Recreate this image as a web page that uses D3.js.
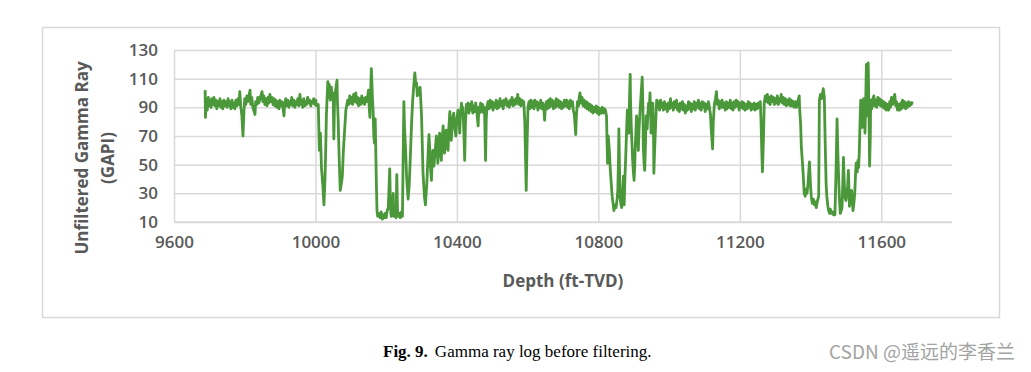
<!DOCTYPE html>
<html lang="en">
  <head>
    <meta charset="UTF-8" />
    <title>Gamma ray log before filtering</title>
    <script src="https://d3js.org/d3.v7.min.js"></script>
    <style>
      body {
        margin: 0;
        background: #fff;
      }
      .tick-label {
        font-family: "Open Sans", sans-serif;
        font-size: 17px;
        font-weight: 600;
        fill: #595959;
      }
      .axis-title {
        font-family: "Open Sans", sans-serif;
        font-size: 17px;
        font-weight: 700;
        fill: #595959;
      }
      .caption {
        font-family: "Liberation Serif", serif;
        font-size: 17px;
        fill: #000;
      }
      .watermark {
        font-family: "Noto Sans CJK SC", sans-serif;
        font-size: 19px;
        fill: #a3a3a3;
      }
    </style>
  </head>
  <body>
    <svg width="1031" height="372"></svg>

    <script>
      // axis setup
      const depthDomain = [9600, 11800];
      const gammaDomain = [10, 130];
      const depthTicks = [9600, 10000, 10400, 10800, 11200, 11600];
      const gammaTicks = [10, 30, 50, 70, 90, 110, 130];
      const xTitle = "Depth (ft-TVD)";
      const yTitle = ["Unfiltered Gamma Ray", "(GAPI)"];

      // [depth ft-TVD, gamma ray GAPI]
      const gammaRayLog = [
        [9688,102],[9689,83],[9691,96],[9694,88],[9697,97],[9699,91],[9702,95],[9705,90],[9707,96],[9710,92],
        [9713,97],[9716,91],[9719,95],[9721,89],[9724,94],[9727,91],[9730,96],[9733,90],[9736,94],[9738,89],
        [9741,95],[9744,91],[9747,94],[9750,90],[9753,96],[9755,91],[9758,94],[9761,89],[9764,95],[9767,90],
        [9770,93],[9772,89],[9775,95],[9778,91],[9781,96],[9784,92],[9786,101],[9789,90],[9792,84],[9795,70],
        [9798,88],[9800,96],[9803,92],[9806,98],[9809,94],[9815,102],[9817,92],[9820,97],[9823,90],[9829,85],
        [9831,94],[9834,92],[9837,97],[9840,93],[9843,96],[9849,101],[9851,94],[9854,98],[9857,92],[9860,96],
        [9863,91],[9866,97],[9868,93],[9871,99],[9874,94],[9877,97],[9880,92],[9883,96],[9885,91],[9888,95],
        [9891,90],[9894,94],[9897,89],[9899,95],[9902,91],[9905,94],[9908,90],[9911,84],[9913,93],[9916,96],
        [9919,91],[9922,95],[9925,90],[9928,94],[9930,92],[9933,97],[9936,91],[9939,95],[9942,90],[9944,94],
        [9947,92],[9950,96],[9953,91],[9956,99],[9959,92],[9961,95],[9964,90],[9967,96],[9970,91],[9973,94],
        [9975,92],[9978,97],[9981,93],[9984,95],[9987,91],[9989,94],[9992,93],[9995,96],[9998,92],[10001,95],
        [10003,91],[10008,92],[10011,60],[10014,72],[10017,48],[10021,35],[10024,22],[10027,40],[10029,60],[10031,85],
        [10035,108],[10037,97],[10039,106],[10042,95],[10045,104],[10047,98],[10050,100],[10052,68],[10054,95],[10057,102],
        [10061,109],[10062,95],[10064,83],[10067,55],[10070,32],[10074,38],[10076,42],[10079,60],[10082,72],[10086,88],
        [10091,95],[10094,92],[10097,98],[10100,93],[10103,97],[10105,92],[10108,99],[10111,94],[10114,100],[10117,93],
        [10119,97],[10122,91],[10125,96],[10128,92],[10131,98],[10134,93],[10136,96],[10139,92],[10142,97],[10145,94],
        [10148,98],[10150,102],[10152,90],[10154,83],[10156,100],[10158,117],[10160,105],[10161,97],[10163,88],[10165,70],
        [10167,65],[10169,82],[10172,40],[10174,18],[10176,14],[10181,16],[10183,13],[10186,17],[10189,12],[10192,15],
        [10195,13],[10197,16],[10200,13],[10203,18],[10206,20],[10210,47],[10212,22],[10214,14],[10217,16],[10220,30],
        [10221,14],[10225,15],[10228,13],[10230,43],[10232,18],[10235,14],[10238,16],[10240,13],[10243,17],[10246,14],
        [10248,55],[10250,94],[10252,75],[10255,60],[10258,40],[10262,26],[10265,35],[10269,60],[10272,80],[10275,95],
        [10278,105],[10281,114],[10284,105],[10286,107],[10288,98],[10291,103],[10293,99],[10296,104],[10300,84],[10302,65],
        [10304,45],[10306,37],[10308,28],[10311,22],[10313,30],[10315,37],[10318,55],[10321,71],[10323,62],[10325,49],
        [10328,39],[10330,52],[10332,60],[10335,49],[10338,58],[10342,70],[10344,62],[10346,51],[10349,60],[10351,72],
        [10354,64],[10356,53],[10358,66],[10361,77],[10363,68],[10365,58],[10368,67],[10370,74],[10372,65],[10375,60],
        [10377,75],[10380,87],[10382,75],[10384,67],[10387,78],[10389,84],[10391,86],[10394,76],[10397,70],[10399,80],
        [10403,88],[10406,80],[10408,72],[10410,85],[10413,93],[10415,85],[10417,90],[10420,70],[10422,53],[10424,78],
        [10427,92],[10429,87],[10432,93],[10434,86],[10436,92],[10439,88],[10442,94],[10445,86],[10448,91],[10450,87],
        [10453,93],[10456,88],[10460,77],[10462,90],[10464,86],[10467,93],[10470,87],[10473,92],[10476,86],[10478,90],
        [10481,53],[10483,82],[10485,90],[10488,94],[10491,89],[10494,95],[10497,90],[10500,94],[10502,88],[10505,93],
        [10508,90],[10511,95],[10514,89],[10517,94],[10519,90],[10522,96],[10525,91],[10528,94],[10531,89],[10533,95],
        [10536,92],[10539,96],[10542,91],[10545,94],[10548,90],[10551,95],[10553,92],[10556,97],[10559,91],[10562,95],
        [10565,92],[10567,96],[10570,93],[10572,99],[10575,92],[10578,96],[10581,91],[10584,95],[10587,92],[10589,94],
        [10592,80],[10594,55],[10596,32],[10598,60],[10601,90],[10604,94],[10606,89],[10609,95],[10612,90],[10615,94],
        [10618,89],[10620,95],[10623,91],[10626,94],[10629,88],[10632,93],[10635,90],[10637,95],[10640,89],[10643,93],
        [10646,88],[10648,81],[10650,90],[10653,94],[10656,89],[10659,95],[10662,90],[10664,96],[10667,91],[10670,95],
        [10673,89],[10676,94],[10679,90],[10681,96],[10684,91],[10687,95],[10690,90],[10693,94],[10696,89],[10698,93],
        [10701,90],[10704,95],[10707,91],[10710,95],[10713,90],[10715,94],[10718,89],[10721,95],[10724,91],[10727,94],
        [10729,88],[10732,85],[10734,78],[10736,71],[10738,85],[10741,94],[10744,91],[10746,97],[10748,100],[10751,93],
        [10754,97],[10757,91],[10760,95],[10763,90],[10766,94],[10768,89],[10771,93],[10774,88],[10777,92],[10780,87],
        [10782,91],[10785,86],[10788,90],[10791,87],[10794,91],[10797,86],[10800,90],[10802,85],[10805,89],[10808,86],
        [10811,90],[10814,86],[10817,89],[10820,88],[10823,84],[10826,51],[10828,70],[10831,60],[10833,50],[10835,42],
        [10837,35],[10839,28],[10842,22],[10844,18],[10847,22],[10850,20],[10853,26],[10855,32],[10857,55],[10858,75],
        [10860,45],[10861,28],[10864,22],[10866,20],[10868,30],[10871,42],[10872,28],[10873,22],[10875,40],[10878,60],
        [10880,75],[10882,88],[10884,80],[10886,72],[10888,95],[10890,113],[10891,95],[10893,77],[10895,65],[10897,53],
        [10899,45],[10901,39],[10903,50],[10904,60],[10906,72],[10908,84],[10911,72],[10913,60],[10915,75],[10918,88],
        [10921,100],[10924,111],[10926,90],[10927,63],[10929,52],[10931,46],[10933,62],[10935,84],[10938,75],[10940,85],
        [10942,93],[10944,88],[10946,100],[10948,85],[10949,72],[10951,82],[10954,93],[10956,70],[10957,44],[10959,60],
        [10961,72],[10963,85],[10965,95],[10967,90],[10970,94],[10973,88],[10976,95],[10979,90],[10981,93],[10984,88],
        [10987,94],[10990,89],[10993,92],[10995,87],[10998,93],[11001,89],[11004,96],[11007,90],[11009,93],[11012,88],
        [11015,94],[11018,90],[11021,95],[11024,88],[11026,92],[11029,87],[11032,93],[11035,89],[11038,94],[11040,88],
        [11043,92],[11046,86],[11049,91],[11052,88],[11055,94],[11057,89],[11060,93],[11063,87],[11066,92],[11069,89],
        [11071,94],[11074,88],[11077,93],[11080,90],[11083,95],[11086,89],[11088,93],[11091,88],[11094,94],[11097,90],
        [11100,93],[11102,87],[11105,92],[11108,89],[11111,94],[11114,90],[11117,85],[11119,75],[11123,61],[11125,80],
        [11128,92],[11131,96],[11134,101],[11136,92],[11139,95],[11142,89],[11145,94],[11148,90],[11150,95],[11153,90],
        [11156,93],[11159,88],[11162,94],[11164,89],[11167,93],[11170,90],[11173,95],[11176,89],[11179,93],[11181,88],
        [11184,94],[11187,90],[11190,95],[11193,91],[11195,94],[11198,88],[11201,93],[11204,90],[11207,94],[11210,89],
        [11212,93],[11215,88],[11218,92],[11221,89],[11224,94],[11226,90],[11229,93],[11232,88],[11235,92],[11238,89],
        [11241,93],[11243,88],[11246,92],[11249,89],[11252,93],[11255,90],[11258,94],[11260,80],[11262,60],[11264,45],
        [11267,70],[11269,93],[11272,98],[11275,94],[11278,99],[11281,93],[11283,97],[11286,92],[11289,98],[11292,94],
        [11295,97],[11298,92],[11300,96],[11303,93],[11306,98],[11309,92],[11312,96],[11315,94],[11317,99],[11320,93],
        [11323,97],[11326,92],[11329,96],[11332,91],[11334,95],[11337,92],[11340,96],[11343,91],[11346,95],[11348,91],
        [11351,94],[11354,90],[11357,94],[11360,90],[11363,93],[11365,95],[11368,98],[11369,90],[11372,78],[11374,62],
        [11377,52],[11379,44],[11382,30],[11385,28],[11387,33],[11390,30],[11393,37],[11395,45],[11397,52],[11400,35],
        [11402,28],[11405,23],[11408,26],[11411,22],[11414,24],[11416,20],[11419,24],[11423,28],[11424,60],[11425,95],
        [11428,99],[11431,96],[11434,100],[11436,103],[11439,97],[11441,70],[11444,37],[11446,28],[11449,21],[11451,18],
        [11454,16],[11456,19],[11459,16],[11462,17],[11465,15],[11467,16],[11469,15],[11472,45],[11475,82],[11477,60],
        [11480,37],[11482,25],[11484,16],[11487,18],[11489,20],[11491,35],[11493,55],[11495,40],[11497,28],[11500,25],
        [11502,28],[11505,35],[11507,46],[11509,30],[11510,21],[11513,26],[11516,32],[11520,18],[11523,24],[11525,30],
        [11527,42],[11529,51],[11532,45],[11534,53],[11536,48],[11538,60],[11540,80],[11542,95],[11544,88],[11546,76],
        [11548,88],[11550,96],[11552,85],[11554,72],[11556,95],[11558,120],[11559,105],[11561,84],[11562,100],[11563,121],
        [11565,90],[11566,70],[11567,49],[11569,70],[11570,95],[11573,89],[11576,96],[11579,98],[11581,91],[11584,95],
        [11587,90],[11590,97],[11593,92],[11595,96],[11598,91],[11601,95],[11604,90],[11607,94],[11610,89],[11612,93],
        [11615,88],[11618,92],[11621,88],[11624,94],[11626,90],[11629,97],[11632,92],[11635,95],[11638,99],[11641,91],
        [11643,94],[11646,88],[11649,92],[11652,88],[11655,93],[11657,89],[11660,95],[11663,90],[11666,94],[11669,89],
        [11671,93],[11674,90],[11677,94],[11680,91],[11683,93],[11685,92],[11688,94]
      ];

      const svg = d3.select("svg");
      const gridColor = "#d9d9d9";
      const plot = { left: 174, right: 952, top: 50, bottom: 222 };

      // chart frame
      svg
        .append("rect")
        .attr("x", 42.5)
        .attr("y", 27.5)
        .attr("width", 957)
        .attr("height", 290)
        .attr("fill", "#fff")
        .attr("stroke", gridColor)
        .attr("stroke-width", 1.5);

      const x = d3.scaleLinear().domain(depthDomain).range([plot.left, plot.right]);
      const y = d3.scaleLinear().domain(gammaDomain).range([plot.bottom, plot.top]);

      // horizontal gridlines + y labels
      const yAxis = svg
        .append("g")
        .attr("transform", `translate(${plot.left},0)`)
        .call(
          d3
            .axisLeft(y)
            .tickValues(gammaTicks)
            .tickSize(-(plot.right - plot.left))
            .tickPadding(16)
        );
      yAxis.select(".domain").remove();
      yAxis.selectAll(".tick line").attr("stroke", gridColor).attr("stroke-width", 1.5);
      yAxis.selectAll(".tick text").attr("class", "tick-label").attr("fill", null);

      // vertical gridlines + x labels
      const xAxis = svg
        .append("g")
        .attr("transform", `translate(0,${plot.bottom})`)
        .call(
          d3
            .axisBottom(x)
            .tickValues(depthTicks)
            .tickSize(-(plot.bottom - plot.top))
            .tickPadding(14)
            .tickFormat(d3.format("d"))
        );
      xAxis.select(".domain").attr("stroke", gridColor).attr("stroke-width", 1.5)
        .attr("d", `M${plot.left},0H${plot.right}`);
      xAxis.selectAll(".tick line").attr("stroke", gridColor).attr("stroke-width", 1.5);
      xAxis.selectAll(".tick text").attr("class", "tick-label").attr("fill", null);

      // the log
      const line = d3
        .line()
        .x((d) => x(d[0]))
        .y((d) => y(d[1]));

      svg
        .append("path")
        .datum(gammaRayLog)
        .attr("fill", "none")
        .attr("stroke", "#4b983b")
        .attr("stroke-width", 2.8)
        .attr("stroke-linejoin", "round")
        .attr("d", line);

      // axis titles
      svg
        .append("text")
        .attr("class", "axis-title")
        .attr("x", 563)
        .attr("y", 287)
        .attr("font-size", 18)
        .attr("text-anchor", "middle")
        .text(xTitle);

      const yt = svg
        .append("text")
        .attr("class", "axis-title")
        .attr("transform", "translate(0,158) rotate(-90)")
        .attr("text-anchor", "middle");
      yTitle.forEach((t, i) => {
        yt.append("tspan")
          .attr("x", 0)
          .attr("y", 88 + i * 26)
          .text(t);
      });

      // caption below the figure
      const cap = svg
        .append("text")
        .attr("class", "caption")
        .attr("x", 383)
        .attr("y", 357);
      cap.append("tspan").attr("font-weight", "bold").text("Fig. 9.");
      cap.append("tspan").attr("dx", 7).text("Gamma ray log before filtering.");

      svg
        .append("text")
        .attr("class", "watermark")
        .attr("x", 1015)
        .attr("y", 359)
        .attr("text-anchor", "end")
        .text("CSDN @遥远的李香兰");
    </script>
  </body>
</html>
